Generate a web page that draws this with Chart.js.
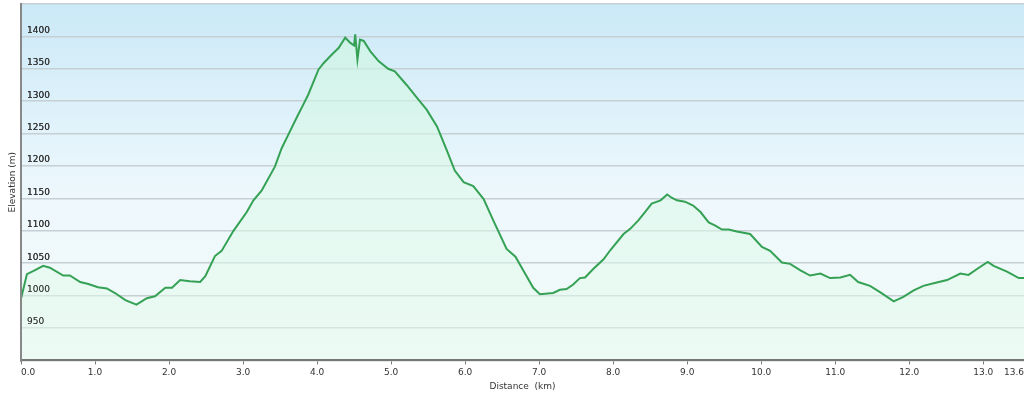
<!DOCTYPE html>
<html>
<head>
<meta charset="utf-8">
<script src="https://cdn.jsdelivr.net/npm/chart.js@4/dist/chart.umd.min.js"></script>
<style>
  html, body { margin: 0; padding: 0; background: #ffffff; }
  #wrap { width: 1024px; height: 396px; }
</style>
</head>
<body>
<div id="wrap"><canvas id="profile" width="1024" height="396"></canvas></div>
<script>
// Elevation profile - distance (km) vs elevation (m)

const distanceKm = [
    0.00, 0.08, 0.17, 0.30, 0.39, 0.57, 0.66, 0.80, 0.91, 1.04,
    1.16, 1.27, 1.41, 1.56, 1.70, 1.81, 1.95, 2.04, 2.15, 2.28,
    2.42, 2.49, 2.62, 2.71, 2.87, 3.05, 3.14, 3.25, 3.43, 3.52,
    3.61, 3.73, 3.81, 3.88, 4.02, 4.09, 4.20, 4.29, 4.38, 4.45,
    4.50, 4.515, 4.545, 4.58, 4.63, 4.72, 4.83, 4.96, 5.05, 5.21,
    5.35, 5.48, 5.62, 5.75, 5.86, 5.98, 6.11, 6.25, 6.38, 6.56,
    6.68, 6.79, 6.92, 7.01, 7.19, 7.28, 7.37, 7.46, 7.55, 7.62,
    7.73, 7.87, 7.96, 8.14, 8.23, 8.34, 8.43, 8.52, 8.64, 8.73,
    8.79, 8.86, 8.97, 9.08, 9.18, 9.29, 9.38, 9.47, 9.56, 9.67,
    9.85, 10.01, 10.12, 10.28, 10.39, 10.53, 10.66, 10.80, 10.93, 11.07,
    11.20, 11.31, 11.47, 11.61, 11.79, 11.92, 12.06, 12.19, 12.33, 12.51,
    12.69, 12.80, 12.94, 13.06, 13.14, 13.32, 13.48, 13.55
];

const elevationM = [
    995, 1033, 1038, 1046, 1043, 1031, 1031, 1021, 1018, 1013,
    1011, 1004, 993, 986, 996, 999, 1012, 1012, 1024, 1022,
    1021, 1030, 1061, 1069, 1100, 1129, 1147, 1162, 1199, 1227,
    1248, 1276, 1294, 1310, 1349, 1359, 1372, 1382, 1398, 1390,
    1386, 1403, 1364, 1395, 1393, 1377, 1362, 1350, 1346, 1325,
    1305, 1287, 1261, 1225, 1193, 1175, 1169, 1149, 1116, 1072,
    1060, 1038, 1012, 1002, 1004, 1009, 1010, 1017, 1027, 1028,
    1041, 1056, 1070, 1095, 1103, 1116, 1129, 1142, 1147, 1156,
    1151, 1147, 1145, 1139, 1129, 1113, 1108, 1102, 1102, 1099,
    1095, 1075, 1069, 1051, 1049, 1039, 1031, 1034, 1027, 1028,
    1032, 1021, 1015, 1005, 991, 998, 1008, 1015, 1019, 1024,
    1034, 1032, 1043, 1052, 1046, 1037, 1027, 1027
];

const xTickValues = [0, 1, 2, 3, 4, 5, 6, 7, 8, 9, 10, 11, 12, 13, 13.55];
const xEndLabel = '13.6';
const yMin = 900;
const yMax = 1450;

// sky-like background behind the plot
const bgPlugin = {
    id: 'plotBackground',
    beforeDraw(chart) {
        const { ctx, chartArea } = chart;
        if (!chartArea) return;
        const g = ctx.createLinearGradient(0, chartArea.top, 0, chartArea.bottom);
        g.addColorStop(0, '#cbe9f7');
        g.addColorStop(0.55, '#eef8fd');
        g.addColorStop(1, '#f2fbf7');
        ctx.save();
        ctx.fillStyle = g;
        ctx.fillRect(chartArea.left, chartArea.top, chartArea.right - chartArea.left, chartArea.bottom - chartArea.top);
        ctx.restore();
    },
    // keep axis labels and axis lines readable on top of the area fill
    afterDatasetsDraw(chart) {
        chart.scales.y.drawLabels(chart.chartArea);
        chart.scales.x.drawBorder();
        chart.scales.y.drawBorder();
    }
};

function fillGradient(context) {
    const chart = context.chart;
    const area = chart.chartArea;
    if (!area) return 'rgba(220,245,230,0.5)';
    const g = chart.ctx.createLinearGradient(0, area.top, 0, area.bottom);
    g.addColorStop(0, 'rgba(205,248,222,0.6)');
    g.addColorStop(1, 'rgba(230,250,238,0.5)');
    return g;
}

const points = distanceKm.map((d, i) => ({ x: d, y: elevationM[i] }));

Chart.defaults.font.family = '"DejaVu Sans", Verdana, sans-serif';
Chart.defaults.font.size = 9;
Chart.defaults.color = '#333';

const ctx = document.getElementById('profile').getContext('2d');
const profileChart = new Chart(ctx, {
    type: 'line',
    data: {
        datasets: [{
            label: 'Elevation',
            data: points,
            borderColor: '#35a155',
            borderWidth: 2,
            backgroundColor: fillGradient,
            fill: 'start',
            pointRadius: 0,
            tension: 0
        }]
    },
    options: {
        responsive: false,
        animation: false,
        layout: { padding: { top: 4, right: 0, left: 0, bottom: 4 } },
        plugins: {
            legend: { display: false },
            tooltip: { enabled: false }
        },
        scales: {
            x: {
                type: 'linear',
                min: 0,
                max: 13.55,
                afterBuildTicks(scale) {
                    scale.ticks = xTickValues.map(v => ({ value: v }));
                },
                afterFit(scale) {
                    scale.paddingLeft = 0;
                    scale.paddingRight = 0;
                },
                ticks: {
                    align: 'inner',
                    autoSkip: false,
                    maxRotation: 0,
                    padding: 3,
                    color: '#333',
                    callback: (v) => v === 13.55 ? xEndLabel : Number(v).toFixed(1)
                },
                grid: {
                    drawOnChartArea: false,
                    drawTicks: true,
                    tickLength: 4,
                    color: '#777'
                },
                border: { color: '#777', width: 2 },
                title: {
                    display: true,
                    text: 'Distance  (km)',
                    color: '#333',
                    padding: { top: 0, bottom: 0 }
                }
            },
            y: {
                min: yMin,
                max: yMax,
                afterFit(scale) {
                    scale.width = 21;
                    scale.paddingTop = 0;
                    scale.paddingBottom = 0;
                },
                ticks: {
                    stepSize: 50,
                    mirror: true,
                    padding: 6,
                    labelOffset: -6,
                    color: '#333',
                    callback: (v) => (v === yMin || v === yMax) ? '' : v
                },
                grid: {
                    drawTicks: false,
                    color: '#c6cfd4',
                    lineWidth: 1.5
                },
                border: { color: '#888', width: 2 },
                title: {
                    display: true,
                    text: 'Elevation (m)',
                    color: '#333',
                    padding: { top: 7, bottom: 0 }
                }
            }
        }
    },
    plugins: [bgPlugin]
});
</script>
</body>
</html>
